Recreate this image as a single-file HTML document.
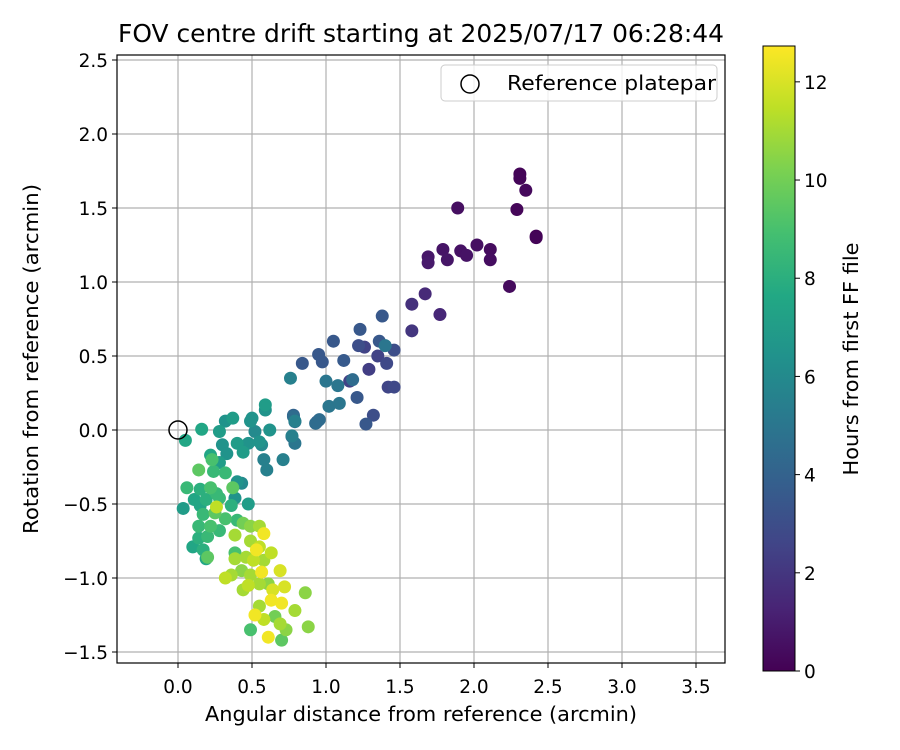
<!DOCTYPE html>
<html><head><meta charset="utf-8"><style>
html,body{margin:0;padding:0;background:#fff;}
svg{display:block;font-family:"DejaVu Sans","Liberation Sans",sans-serif;}
</style></head><body>
<svg id="chart" width="900" height="750" viewBox="0 0 900 750">
<defs>
<linearGradient id="vir" x1="0" y1="1" x2="0" y2="0">
<stop offset="0" stop-color="#440154"/><stop offset="0.1" stop-color="#482475"/><stop offset="0.2" stop-color="#414487"/><stop offset="0.3" stop-color="#355f8d"/><stop offset="0.4" stop-color="#2a788e"/><stop offset="0.5" stop-color="#21918c"/><stop offset="0.6" stop-color="#22a884"/><stop offset="0.7" stop-color="#44bf70"/><stop offset="0.8" stop-color="#7ad151"/><stop offset="0.9" stop-color="#bddf26"/><stop offset="1" stop-color="#fde725"/>
</linearGradient>
<clipPath id="clip"><rect x="117" y="55" width="608" height="608"/></clipPath>
</defs>
<text x="421" y="42" font-size="24.5" text-anchor="middle" textLength="606" lengthAdjust="spacingAndGlyphs">FOV centre drift starting at 2025/07/17 06:28:44</text>
<g id="grid"></g>
<g id="points" clip-path="url(#clip)"></g>
<circle id="refpt" r="9" fill="none" stroke="#000" stroke-width="1.5"/>
<rect x="117" y="55" width="608" height="608" fill="none" stroke="#000" stroke-width="1.2"/>
<g id="xticks"></g>
<g id="yticks"></g>
<text x="421" y="721" font-size="20" text-anchor="middle" textLength="432" lengthAdjust="spacingAndGlyphs">Angular distance from reference (arcmin)</text>
<text x="38" y="359" font-size="20" text-anchor="middle" transform="rotate(-90 38 359)" textLength="350" lengthAdjust="spacingAndGlyphs">Rotation from reference (arcmin)</text>
<g>
<rect x="441" y="65" width="276" height="36" rx="4" fill="#fff" fill-opacity="0.8" stroke="#ccc"/>
<circle cx="470" cy="84" r="9" fill="none" stroke="#000" stroke-width="1.5"/>
<text x="507" y="90" font-size="20" textLength="209" lengthAdjust="spacingAndGlyphs">Reference platepar</text>
</g>
<rect x="763" y="46" width="32" height="625" fill="url(#vir)" stroke="#000" stroke-width="1"/>
<g id="cbticks"></g>
<text x="858" y="359" font-size="20" text-anchor="middle" transform="rotate(-90 858 359)" textLength="233" lengthAdjust="spacingAndGlyphs">Hours from first FF file</text>
</svg>
<script>
const xs = [2.31,2.31,2.35,1.89,2.29,2.42,2.42,1.69,1.69,1.79,1.82,1.91,1.95,2.02,2.11,2.11,2.24,
1.58,1.67,1.77,1.58,1.38,1.23,1.05,1.22,1.26,1.36,1.40,1.46,1.35,1.41,1.29,0.95,0.975,0.84,1.12,0.76,1.00,1.08,1.16,1.18,1.42,1.46,1.21,1.02,1.09,1.32,1.27,0.78,0.79,0.93,0.955,0.77,
0.05,0.16,0.28,0.32,0.37,0.50,0.59,0.59,0.49,0.52,0.62,0.78,0.79,0.94,0.77,0.79,0.30,0.40,0.475,0.55,0.565,0.22,0.33,0.44,0.58,0.60,0.71,0.23,0.28,0.14,0.24,0.32,0.40,0.43,0.06,0.15,0.22,0.37,0.26,0.11,0.19,0.28,0.385,0.475,0.035,0.15,0.26,0.36,0.17,0.25,0.32,0.40,0.44,0.49,0.55,0.14,0.22,0.28,0.385,0.58,0.14,0.20,0.49,0.55,0.53,0.10,0.17,0.385,0.46,0.63,0.19,0.20,0.385,0.51,0.58,0.32,0.36,0.43,0.49,0.565,0.69,0.44,0.475,0.55,0.61,0.64,0.72,0.86,0.63,0.70,0.55,0.52,0.79,0.58,0.69,0.73,0.88,0.49,0.61,0.70,0.655];
const ys = [1.73,1.70,1.62,1.50,1.49,1.31,1.30,1.17,1.13,1.22,1.15,1.21,1.18,1.25,1.22,1.15,0.97,
0.85,0.92,0.78,0.67,0.77,0.68,0.60,0.57,0.56,0.60,0.57,0.54,0.50,0.45,0.41,0.51,0.46,0.45,0.47,0.35,0.33,0.30,0.33,0.34,0.29,0.29,0.22,0.16,0.18,0.10,0.04,0.09,0.06,0.045,0.07,-0.04,
-0.07,0.005,-0.01,0.06,0.08,0.08,0.17,0.135,0.06,-0.01,0.0,0.10,0.056,0.056,-0.045,-0.09,-0.10,-0.09,-0.09,-0.08,-0.10,-0.17,-0.16,-0.15,-0.20,-0.27,-0.20,-0.20,-0.22,-0.27,-0.28,-0.29,-0.35,-0.36,-0.39,-0.40,-0.39,-0.39,-0.43,-0.47,-0.47,-0.46,-0.46,-0.50,-0.53,-0.51,-0.52,-0.51,-0.57,-0.56,-0.60,-0.61,-0.63,-0.65,-0.65,-0.65,-0.65,-0.68,-0.71,-0.70,-0.73,-0.72,-0.75,-0.79,-0.81,-0.79,-0.81,-0.83,-0.86,-0.83,-0.87,-0.86,-0.87,-0.88,-0.88,-1.00,-0.98,-0.95,-0.98,-0.96,-0.95,-1.08,-1.05,-1.04,-1.04,-1.08,-1.06,-1.10,-1.15,-1.17,-1.19,-1.25,-1.22,-1.28,-1.31,-1.35,-1.33,-1.35,-1.40,-1.42,-1.26];
const hours = [0.1,0.15,0.3,0.5,0.2,0.05,0.1,0.8,0.9,0.7,0.75,0.6,0.65,0.55,0.4,0.45,0.35,
1.8,1.5,1.4,2.0,3.5,3.5,3.5,3.0,2.5,3.5,5.0,3.0,2.5,2.8,2.3,3.5,3.5,3.5,3.6,5.5,5.0,5.0,2.5,4.5,2.6,2.8,3.5,5.0,5.0,3.0,3.5,4.5,5.5,4.5,4.5,5.5,
7.5,7.5,7.0,6.5,7.0,6.5,7.0,6.5,6.5,6.0,6.5,4.0,4.5,3.5,4.0,5.0,6.5,7.0,6.5,6.5,6.0,7.5,6.5,7.0,5.5,5.5,5.5,9.0,7.0,9.5,8.5,8.5,6.5,6.0,8.5,8.0,9.0,9.5,8.5,7.5,8.0,8.5,6.5,7.0,7.0,7.5,11.5,8.0,8.5,9.5,9.0,8.5,10.0,10.5,11.0,8.5,9.0,8.5,11.0,12.5,8.0,8.5,11.0,11.5,12.5,7.5,8.0,9.0,11.0,11.5,7.5,9.5,11.0,11.5,11.0,11.5,11.0,10.5,11.0,12.5,12.0,11.0,11.5,11.0,10.5,12.0,12.0,10.5,12.5,12.5,11.0,12.5,11.0,11.5,11.0,10.5,10.5,9.0,12.5,9.5,10.0];
const xTicks = [0.0,0.5,1.0,1.5,2.0,2.5,3.0,3.5];
const yTicks = [-1.5,-1.0,-0.5,0.0,0.5,1.0,1.5,2.0,2.5];
const cTicks = [0,2,4,6,8,10,12];
const hMax = 12.73;

const NS="http://www.w3.org/2000/svg";
const X = v => 178 + v*148;
const Y = v => 430 - v*148;
const C = h => 671 - h/hMax*625;
const stops=["#440154","#482475","#414487","#355f8d","#2a788e","#21918c","#22a884","#44bf70","#7ad151","#bddf26","#fde725"].map(s=>[1,3,5].map(i=>parseInt(s.substr(i,2),16)));
function vir(t){t=Math.max(0,Math.min(1,t))*10;const i=Math.min(9,Math.floor(t)),f=t-i;const a=stops[i],b=stops[i+1];return "rgb("+a.map((v,k)=>Math.round(v+(b[k]-v)*f)).join(",")+")";}
function mk(tag,attrs,parent){const e=document.createElementNS(NS,tag);for(const k in attrs)e.setAttribute(k,attrs[k]);parent.appendChild(e);return e;}

const grid=document.getElementById('grid'), xt=document.getElementById('xticks'), yt=document.getElementById('yticks'), cb=document.getElementById('cbticks');
xTicks.forEach(v=>{
  const g=mk('line',{x1:X(v),x2:X(v),y1:55,y2:663,stroke:'#b0b0b0','stroke-width':1.2},grid);
  
  
  const t=mk('line',{x1:X(v),x2:X(v),y1:663,y2:668,stroke:'#000'},xt);
  
  
  const l=mk('text',{x:X(v),y:693,'font-size':18.5,'text-anchor':'middle'},xt);
  l.textContent=v.toFixed(1);
  
  
});
yTicks.forEach(v=>{
  const g=mk('line',{x1:117,x2:725,y1:Y(v),y2:Y(v),stroke:'#b0b0b0','stroke-width':1.2},grid);
  
  
  const t=mk('line',{x1:112,x2:117,y1:Y(v),y2:Y(v),stroke:'#000'},yt);
  
  
  const l=mk('text',{x:108,y:Y(v)+7,'font-size':18.5,'text-anchor':'end'},yt);
  l.textContent=(v<0?"\u2212":"")+Math.abs(v).toFixed(1);
  
  
});
cTicks.forEach(v=>{
  const t=mk('line',{x1:795,x2:800,y1:C(v),y2:C(v),stroke:'#000'},cb);
  
  
  const l=mk('text',{x:804,y:C(v)+7,'font-size':18.5},cb);
  l.textContent=v;
  
  
});
const pts=document.getElementById('points');
const order=xs.map((_,i)=>i).sort((a,b)=>hours[a]-hours[b]);
order.forEach(i=>{
  const c=mk('circle',{cx:X(xs[i]),cy:Y(ys[i]),r:6.5,fill:vir(hours[i]/hMax)},pts);
  
  
});
const rp=document.getElementById('refpt');
rp.setAttribute('cx',X(0));rp.setAttribute('cy',Y(0));
</script>
</body></html>
